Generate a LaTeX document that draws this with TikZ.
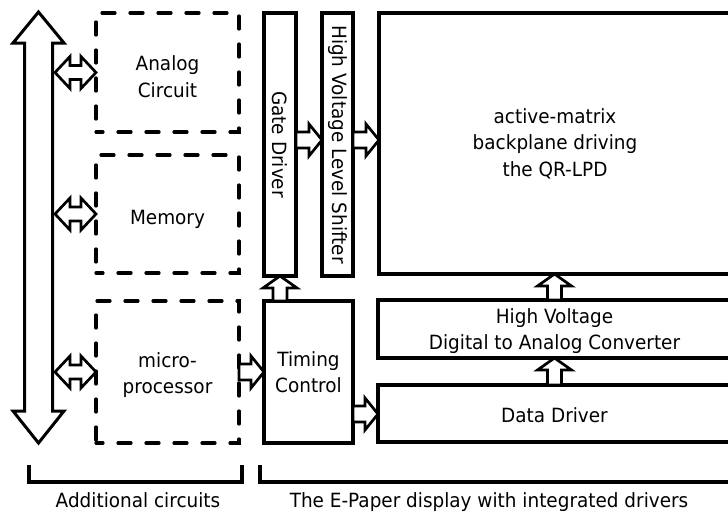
\documentclass[tikz,border=0pt]{standalone}
\usepackage{fontspec}
\setmainfont{DejaVu Sans}[FakeStretch=0.94]
\usetikzlibrary{calc}

% hollow block arrows, drawn relative to an anchor point
\newcommand\rarrow[2]{\draw[barrow, shift={#1}] (0,-8) -- ({#2-13},-8) -- ({#2-13},-16) -- (#2,0) -- ({#2-13},16) -- ({#2-13},8) -- (0,8) -- cycle;}
\newcommand\uarrow[2]{\draw[barrow, shift={#1}] (-7,0) -- (-7,{-(#2-12)}) -- (-17,{-(#2-12)}) -- (0,-#2) -- (17,{-(#2-12)}) -- (7,{-(#2-12)}) -- (7,0) -- cycle;}
\newcommand\lrarrow[2]{\draw[barrow, shift={#1}] (-#2,0) -- ({-#2+15},-16) -- ({-#2+15},-7) -- (-15,-7) -- (-15,-16) -- (0,0) -- (-15,16) -- (-15,7) -- ({-#2+15},7) -- ({-#2+15},16) -- cycle;}

\begin{document}
\begin{tikzpicture}[x=1pt,y=-1pt,
  box/.style={draw, line width=3.2pt, inner sep=0pt, outer sep=0pt},
  dbox/.style={box, line cap=round, dash pattern=on 13pt off 15pt, dash phase=6pt},
  barrow/.style={draw, fill=white, line width=2.7pt, line join=miter},
  lbl/.style={font=\fontsize{19.6}{26.5}\selectfont, align=center, inner sep=0pt}]
\clip (0,0) rectangle (728,514);

% additional circuits
\node[dbox, minimum width=143, minimum height=119] (ana) at (167.5,72.5) {};
\node[lbl, yshift=-4pt] (anat) at (ana) {Analog\\Circuit};
\node[dbox, minimum width=143, minimum height=118] (mem) at (167.5,214) {};
\node[lbl, yshift=-5pt] (memt) at (mem) {Memory};
\node[dbox, minimum width=143, minimum height=142] (mic) at (167.5,372) {};
\node[lbl, yshift=-3pt] (mict) at (mic) {micro-\\processor};

% display with integrated drivers
\node[box, minimum width=32, minimum height=263] (gate) at (280,144.5) {};
\node[lbl, rotate=-90] (gatet) at (gate) {Gate Driver};
\node[box, minimum width=31, minimum height=263] (hvls) at (337.5,144.5) {};
\node[lbl, rotate=-90] (hvlst) at (hvls) {High Voltage Level Shifter};
\node[box, minimum width=352, minimum height=261] (main) at (555,143.5) {};
\node[lbl] (maint) at (main) {active-matrix\\backplane driving\\the QR-LPD};
\node[box, minimum width=89, minimum height=142] (tim) at (308.5,372) {};
\node[lbl] (timt) at (tim) {Timing\\Control};
\node[box, minimum width=353, minimum height=58] (dac) at (554.5,329) {};
\node[lbl, yshift=-2pt] (dact) at (dac) {High Voltage\\Digital to Analog Converter};
\node[box, minimum width=353, minimum height=57] (dat) at (554.5,413.5) {};
\node[lbl, yshift=-1.5pt] (datt) at (dat) {Data Driver};

% system bus
\draw[barrow, line width=3pt] (38.5,12) -- (64,43) -- (52.5,43) -- (52.5,411) -- (64,411)
  -- (38.5,443) -- (13,411) -- (24.5,411) -- (24.5,43) -- (13,43) -- cycle;

% bus connections
\lrarrow{(ana.west)}{41}
\lrarrow{(mem.west)}{41}
\lrarrow{(mic.west)}{41}

% data flow
\rarrow{(mic.east)}{25}
\rarrow{(gate.east |- 0,140)}{26}
\rarrow{(hvls.east |- 0,140)}{26}
\uarrow{(gate.south |- tim.north)}{25}
\rarrow{(tim.east |- 0,414)}{25}
\uarrow{(dat.north)}{27}
\uarrow{(dac.north)}{26}

% groupings
\draw[line width=3.2pt] (29,465) -- (29,482) -- (242,482) -- (242,465);
\draw[line width=3.2pt] (260,465) -- (260,482) -- (740,482);
\node[lbl, anchor=base] (addl) at (138,507) {Additional circuits};
\node[lbl, anchor=base] (epl) at (489,507) {The E-Paper display with integrated drivers};
\end{tikzpicture}
\end{document}
